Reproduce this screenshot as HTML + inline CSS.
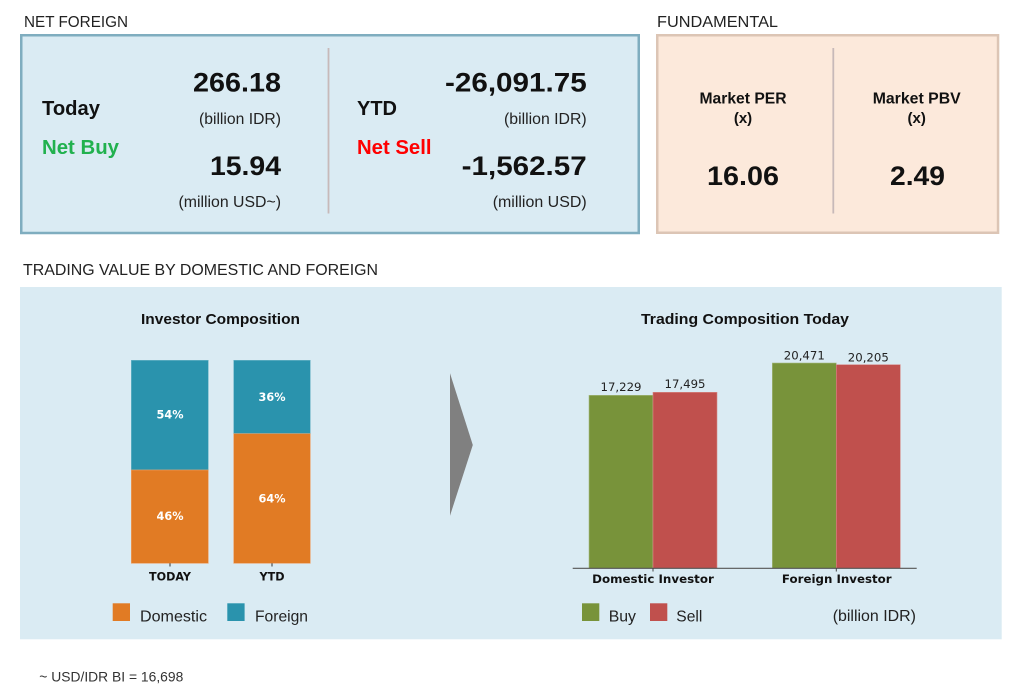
<!DOCTYPE html>
<html>
<head>
<meta charset="utf-8">
<style>
html,body{margin:0;padding:0;background:#ffffff;}
svg{display:block;}
.ls{font-family:"Liberation Sans","DejaVu Sans",sans-serif;}
.dv{font-family:"DejaVu Sans","Liberation Sans",sans-serif;}
</style>
</head>
<body>
<svg width="1024" height="700" viewBox="0 0 1024 700" xmlns="http://www.w3.org/2000/svg">
  <rect x="0" y="0" width="1024" height="700" fill="#ffffff"/>

  <!-- Headings -->
  <text class="ls" x="24" y="27" font-size="15.5" fill="#222" textLength="104" lengthAdjust="spacingAndGlyphs">NET FOREIGN</text>
  <text class="ls" x="657" y="27" font-size="15.5" fill="#222" textLength="121" lengthAdjust="spacingAndGlyphs">FUNDAMENTAL</text>

  <!-- Net foreign box -->
  <rect x="21.25" y="35.25" width="617.5" height="197.75" fill="#daebf3" stroke="#7fadbf" stroke-width="2.5"/>
  <line x1="328.5" y1="48" x2="328.5" y2="213.5" stroke="#c7b9b9" stroke-width="1.8"/>

  <text class="ls" x="42" y="115" font-size="20" font-weight="bold" fill="#111" textLength="58" lengthAdjust="spacingAndGlyphs">Today</text>
  <text class="ls" x="42" y="154" font-size="20" font-weight="bold" fill="#21b14e" textLength="77" lengthAdjust="spacingAndGlyphs">Net Buy</text>

  <text class="ls" x="281" y="91.7" font-size="27" font-weight="bold" fill="#111" text-anchor="end" textLength="88" lengthAdjust="spacingAndGlyphs">266.18</text>
  <text class="ls" x="281" y="124" font-size="16" fill="#222" text-anchor="end" textLength="82" lengthAdjust="spacingAndGlyphs">(billion IDR)</text>
  <text class="ls" x="281" y="175" font-size="27" font-weight="bold" fill="#111" text-anchor="end" textLength="71" lengthAdjust="spacingAndGlyphs">15.94</text>
  <text class="ls" x="281" y="207" font-size="16" fill="#222" text-anchor="end" textLength="102.5" lengthAdjust="spacingAndGlyphs">(million USD~)</text>

  <text class="ls" x="357" y="115" font-size="20" font-weight="bold" fill="#111" textLength="40" lengthAdjust="spacingAndGlyphs">YTD</text>
  <text class="ls" x="357" y="154" font-size="20" font-weight="bold" fill="#ff0000" textLength="74.5" lengthAdjust="spacingAndGlyphs">Net Sell</text>

  <text class="ls" x="586.7" y="91.7" font-size="27" font-weight="bold" fill="#111" text-anchor="end" textLength="141.7" lengthAdjust="spacingAndGlyphs">-26,091.75</text>
  <text class="ls" x="586.7" y="124" font-size="16" fill="#222" text-anchor="end" textLength="82.7" lengthAdjust="spacingAndGlyphs">(billion IDR)</text>
  <text class="ls" x="586.7" y="175" font-size="27" font-weight="bold" fill="#111" text-anchor="end" textLength="125" lengthAdjust="spacingAndGlyphs">-1,562.57</text>
  <text class="ls" x="586.7" y="207" font-size="16" fill="#222" text-anchor="end" textLength="94" lengthAdjust="spacingAndGlyphs">(million USD)</text>

  <!-- Fundamental box -->
  <rect x="657.25" y="35.25" width="340.8" height="197.5" fill="#fce9db" stroke="#dcc5b5" stroke-width="2.5"/>
  <line x1="833.3" y1="48" x2="833.3" y2="213.5" stroke="#c7b9b9" stroke-width="1.8"/>

  <text class="ls" x="743" y="103.3" font-size="16" font-weight="bold" fill="#111" text-anchor="middle" textLength="87" lengthAdjust="spacingAndGlyphs">Market PER</text>
  <text class="ls" x="743" y="123" font-size="15" font-weight="bold" fill="#111" text-anchor="middle">(x)</text>
  <text class="ls" x="743" y="185" font-size="27" font-weight="bold" fill="#111" text-anchor="middle" textLength="72" lengthAdjust="spacingAndGlyphs">16.06</text>

  <text class="ls" x="916.7" y="103.3" font-size="16" font-weight="bold" fill="#111" text-anchor="middle" textLength="88" lengthAdjust="spacingAndGlyphs">Market PBV</text>
  <text class="ls" x="916.7" y="123" font-size="15" font-weight="bold" fill="#111" text-anchor="middle">(x)</text>
  <text class="ls" x="917.5" y="185" font-size="27" font-weight="bold" fill="#111" text-anchor="middle" textLength="55" lengthAdjust="spacingAndGlyphs">2.49</text>

  <!-- Trading value heading -->
  <text class="ls" x="23" y="275" font-size="16" fill="#222" textLength="355" lengthAdjust="spacingAndGlyphs">TRADING VALUE BY DOMESTIC AND FOREIGN</text>

  <!-- Panel -->
  <rect x="20" y="287" width="981.7" height="352.3" fill="#daebf3"/>

  <!-- Investor Composition -->
  <text class="ls" x="220.5" y="324" font-size="15" font-weight="bold" fill="#111" text-anchor="middle" textLength="159" lengthAdjust="spacingAndGlyphs">Investor Composition</text>

  <rect x="131.3" y="360.3" width="77" height="109.7" fill="#2a93ad" stroke="#6fb6c8" stroke-width="0.6"/>
  <rect x="131.3" y="470" width="77" height="93.3" fill="#e17b24" stroke="#eea166" stroke-width="0.6"/>
  <rect x="233.7" y="360.3" width="76.6" height="73.4" fill="#2a93ad" stroke="#6fb6c8" stroke-width="0.6"/>
  <rect x="233.7" y="433.7" width="76.6" height="129.6" fill="#e17b24" stroke="#eea166" stroke-width="0.6"/>

  <text class="dv" x="170" y="418.5" font-size="11.5" font-weight="bold" fill="#ffffff" text-anchor="middle" textLength="27" lengthAdjust="spacingAndGlyphs">54%</text>
  <text class="dv" x="170" y="520.2" font-size="11.5" font-weight="bold" fill="#ffffff" text-anchor="middle" textLength="27" lengthAdjust="spacingAndGlyphs">46%</text>
  <text class="dv" x="272" y="401" font-size="11.5" font-weight="bold" fill="#ffffff" text-anchor="middle" textLength="27" lengthAdjust="spacingAndGlyphs">36%</text>
  <text class="dv" x="272" y="502.5" font-size="11.5" font-weight="bold" fill="#ffffff" text-anchor="middle" textLength="27" lengthAdjust="spacingAndGlyphs">64%</text>

  <line x1="170" y1="563.3" x2="170" y2="566.5" stroke="#333" stroke-width="1"/>
  <line x1="272" y1="563.3" x2="272" y2="566.5" stroke="#333" stroke-width="1"/>
  <text class="dv" x="170" y="580.5" font-size="11.5" font-weight="bold" fill="#111" text-anchor="middle" textLength="42" lengthAdjust="spacingAndGlyphs">TODAY</text>
  <text class="dv" x="272" y="580.5" font-size="11.5" font-weight="bold" fill="#111" text-anchor="middle" textLength="25" lengthAdjust="spacingAndGlyphs">YTD</text>

  <rect x="112.7" y="603.3" width="17.3" height="17.7" fill="#e17b24"/>
  <text class="ls" x="140" y="621.5" font-size="16" fill="#222" textLength="67" lengthAdjust="spacingAndGlyphs">Domestic</text>
  <rect x="227.3" y="603.3" width="17.3" height="17.7" fill="#2a93ad"/>
  <text class="ls" x="255" y="621.5" font-size="16" fill="#222" textLength="53" lengthAdjust="spacingAndGlyphs">Foreign</text>

  <!-- Arrow -->
  <polygon points="450,373.3 472.8,445 450,515.7" fill="#808080"/>

  <!-- Trading Composition Today -->
  <text class="ls" x="745" y="324" font-size="15" font-weight="bold" fill="#111" text-anchor="middle" textLength="208" lengthAdjust="spacingAndGlyphs">Trading Composition Today</text>

  <rect x="589" y="395.3" width="64" height="173" fill="#78933a" stroke="#a7bb83" stroke-width="0.6"/>
  <rect x="653" y="392.3" width="64" height="176" fill="#c0504d" stroke="#d88b89" stroke-width="0.6"/>
  <rect x="772.3" y="363" width="64" height="205.3" fill="#78933a" stroke="#a7bb83" stroke-width="0.6"/>
  <rect x="836.3" y="364.7" width="64" height="203.6" fill="#c0504d" stroke="#d88b89" stroke-width="0.6"/>

  <line x1="572.7" y1="568.3" x2="916.7" y2="568.3" stroke="#555" stroke-width="1.2"/>
  <line x1="653" y1="568.3" x2="653" y2="571.5" stroke="#444" stroke-width="1"/>
  <line x1="836.3" y1="568.3" x2="836.3" y2="571.5" stroke="#444" stroke-width="1"/>

  <text class="dv" x="621" y="391" font-size="11.5" fill="#222" text-anchor="middle" textLength="41" lengthAdjust="spacingAndGlyphs">17,229</text>
  <text class="dv" x="685" y="388" font-size="11.5" fill="#222" text-anchor="middle" textLength="41" lengthAdjust="spacingAndGlyphs">17,495</text>
  <text class="dv" x="804.3" y="359.3" font-size="11.5" fill="#222" text-anchor="middle" textLength="41" lengthAdjust="spacingAndGlyphs">20,471</text>
  <text class="dv" x="868.3" y="361.6" font-size="11.5" fill="#222" text-anchor="middle" textLength="41" lengthAdjust="spacingAndGlyphs">20,205</text>

  <text class="dv" x="653" y="583" font-size="11.5" font-weight="bold" fill="#111" text-anchor="middle" textLength="121.7" lengthAdjust="spacingAndGlyphs">Domestic Investor</text>
  <text class="dv" x="836.8" y="583" font-size="11.5" font-weight="bold" fill="#111" text-anchor="middle" textLength="109.7" lengthAdjust="spacingAndGlyphs">Foreign Investor</text>

  <rect x="582" y="603.3" width="17.3" height="17.7" fill="#78933a"/>
  <text class="ls" x="608.7" y="621.5" font-size="16" fill="#222" textLength="27.3" lengthAdjust="spacingAndGlyphs">Buy</text>
  <rect x="650" y="603.3" width="17.3" height="17.7" fill="#c0504d"/>
  <text class="ls" x="676.3" y="621.5" font-size="16" fill="#222" textLength="26" lengthAdjust="spacingAndGlyphs">Sell</text>
  <text class="ls" x="916" y="620.8" font-size="16" fill="#222" text-anchor="end" textLength="83.3" lengthAdjust="spacingAndGlyphs">(billion IDR)</text>

  <!-- Footer -->
  <text class="ls" x="39.3" y="681.5" font-size="13.5" fill="#333" textLength="144" lengthAdjust="spacingAndGlyphs">~ USD/IDR BI = 16,698</text>
</svg>
</body>
</html>
